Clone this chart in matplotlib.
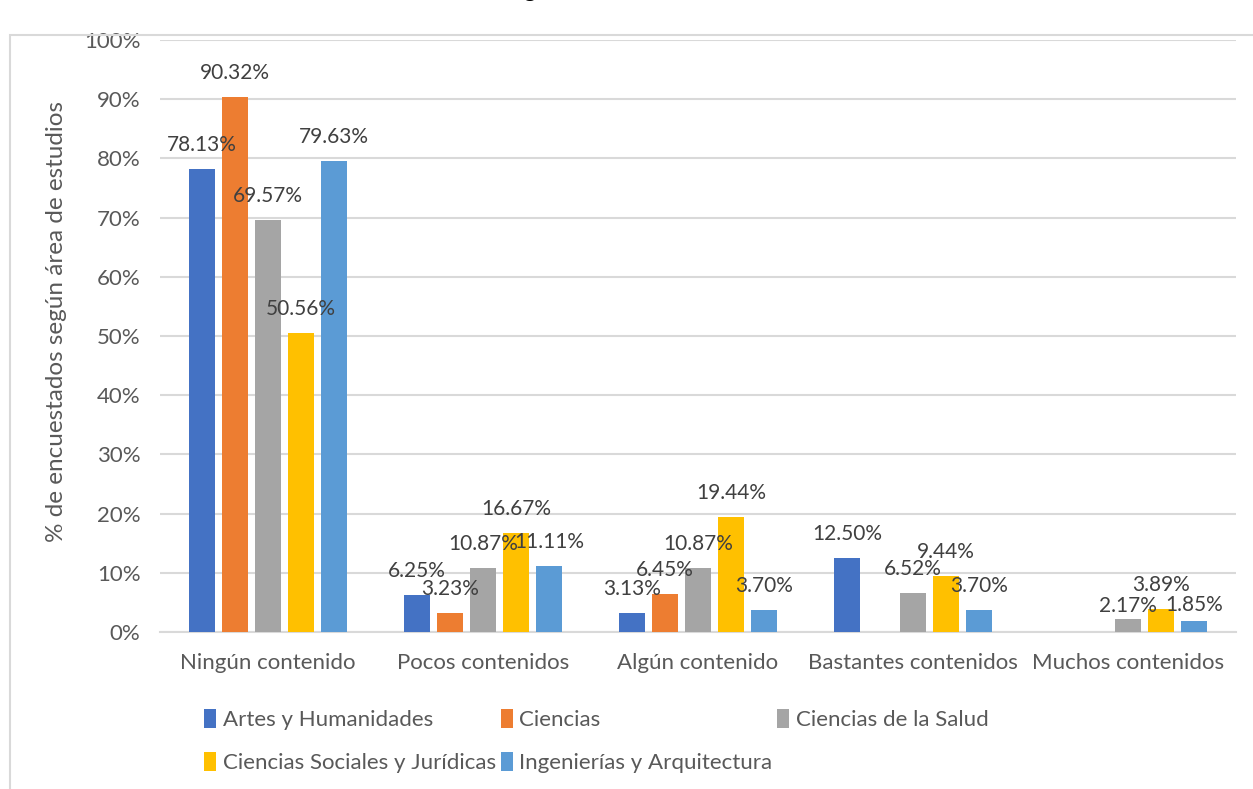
import matplotlib
matplotlib.use("Agg")
import matplotlib.pyplot as plt
import numpy as np
from matplotlib.patches import Rectangle

plt.rcParams['font.family'] = ['Lato', 'DejaVu Sans']

categorias = ["Ningún contenido", "Pocos contenidos", "Algún contenido",
              "Bastantes contenidos", "Muchos contenidos"]
series = ["Artes y Humanidades", "Ciencias", "Ciencias de la Salud",
          "Ciencias Sociales y Jurídicas", "Ingenierías y Arquitectura"]

artes = [78.13, 6.25, 3.13, 12.50, 0]
ciencias = [90.32, 3.23, 6.45, 0, 0]
salud = [69.57, 10.87, 10.87, 6.52, 2.17]
sociales = [50.56, 16.67, 19.44, 9.44, 3.89]
ingenierias = [79.63, 11.11, 3.70, 3.70, 1.85]

colores = ["#4472C4", "#ED7D31", "#A5A5A5", "#FFC000", "#5B9BD5"]
gris_texto = "#595959"

# a couple of labels sit lower than the rest (px above bar top)
offset_label = {(4, 2): 13, (4, 4): 16}

fig = plt.figure(figsize=(12.53, 7.89), dpi=100)
ax = fig.add_axes([160/1253, 1-632/789, (1236-160)/1253, (632-40)/789])

# chart border (cropped on right/bottom)
fig.patches.append(Rectangle((10/1253, -0.1), 1.2, 1-35/789+0.1,
                             transform=fig.transFigure, fill=False,
                             edgecolor="#d9d9d9", lw=1.5))
# title is cut off in the original, only the tail of a "g" shows
fig.text(530/1253, 1+3/789, "g", fontsize=17, fontweight="bold",
         ha="center", va="baseline", color="black")

datos = [artes, ciencias, salud, sociales, ingenierias]
x = np.arange(len(categorias))
paso = 0.1535
ancho = 0.121
handles = []
for i, (nombre, vals) in enumerate(zip(series, datos)):
    pos = x + (i - 2) * paso
    b = ax.bar(pos, np.array(vals) / 100, ancho, color=colores[i],
               label=nombre, zorder=3)
    handles.append(b)
    for j, v in enumerate(vals):
        if v == 0:
            continue
        off = offset_label.get((j, i), 24) * 0.72
        ax.annotate(f"{v:.2f}%", (pos[j], v / 100), xytext=(0, off),
                    textcoords="offset points", ha="center", va="center",
                    fontsize=15, color="#404040", zorder=4)

ax.set_xlim(-0.5, 4.5)
ax.set_ylim(0, 1)
ticks = np.arange(0, 1.01, 0.1)
ax.set_yticks(ticks)
ax.set_yticklabels([f"{int(round(t*100))}%" for t in ticks])
ax.set_xticks(x)
ax.set_xticklabels(categorias)
ax.tick_params(axis="both", length=0, labelsize=16, colors=gris_texto)
ax.tick_params(axis="y", pad=14)
ax.tick_params(axis="x", pad=15)
ax.grid(axis="y", color="#d9d9d9", lw=1.5, zorder=0)
for s in ["top", "right", "left"]:
    ax.spines[s].set_visible(False)
ax.spines["bottom"].set_color("#d9d9d9")
ax.spines["bottom"].set_linewidth(1.5)
fig.text(57/1253, 1-322/789, "% de encuestados según área de estudios",
         rotation=90, ha="center", va="center", fontsize=17.5,
         color=gris_texto)

# legend filled row by row like Excel
orden = [0, 3, 1, 4, 2]
fig.legend([handles[k] for k in orden], [series[k] for k in orden],
           loc="upper left", bbox_to_anchor=(193/1253, 1-698/789), ncol=3,
           frameon=False, fontsize=16, labelcolor=gris_texto,
           handlelength=0.55, handleheight=0.9, handletextpad=0.3,
           columnspacing=0.2, labelspacing=1.0, borderpad=0)

fig.savefig("out.png", dpi=100)
